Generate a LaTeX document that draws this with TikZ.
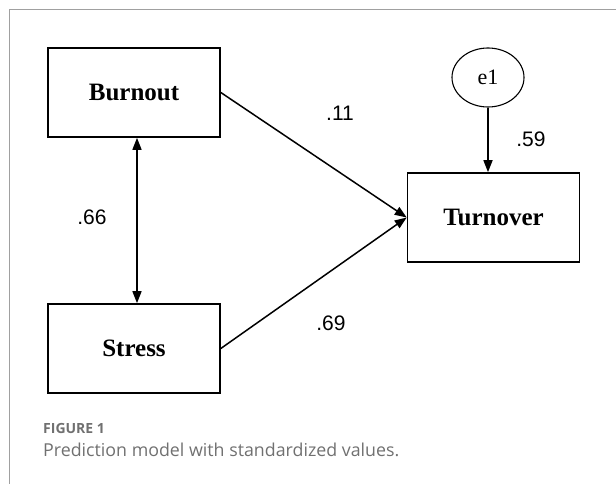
\documentclass[tikz,border=0pt]{standalone}
\usepackage{fontspec}
\setmainfont{Liberation Serif}
\newfontfamily\numfont{Liberation Sans}
\newfontfamily\capfont{Open Sans}
\usetikzlibrary{arrows.meta,shapes.geometric}
\definecolor{framegray}{HTML}{A0A0A0}
\definecolor{capgray}{HTML}{707070}

\begin{document}
\begin{tikzpicture}[x=1pt, y=-1pt, >={Triangle[length=12pt,width=9pt]}]
 \useasboundingbox (0,0) rectangle (616,484);
 \draw[framegray, line width=1pt] (9.5,484) -- (9.5,9.5) -- (616,9.5);
 \begin{scope}[every node/.style={draw, line width=1.6pt, inner sep=0pt,
     minimum width=172pt, minimum height=89pt,
     font=\fontsize{25}{29}\selectfont\bfseries}]
   \node (burnout) at (134,92.5) {Burnout};
   \node (stress) at (134,348.5) {Stress};
   \node (turnover) at (493.5,217.5) {Turnover};
 \end{scope}
 \node (e1) [draw, ellipse, line width=1.1pt, minimum width=72pt, minimum height=59pt,
   inner sep=0pt, font=\fontsize{22}{26}\selectfont] at (488,77.5) {e1};
 \begin{scope}[line width=1.5pt]
   \draw[<->] ([xshift=3pt]burnout.south) -- ([xshift=3pt]stress.north);
   \draw[->] (burnout.east) -- (turnover.west);
   \draw[->] (stress.east) -- (turnover.west);
   \draw[->] (e1.south) -- (e1.south |- turnover.north);
 \end{scope}
 \begin{scope}[every node/.style={font=\numfont\fontsize{21}{24}\selectfont}]
   \node (bt) at (340,113) {.11};
   \node (et) at (531,139) {.59};
   \node (bs) at (92,217) {.66};
   \node (st) at (331,323) {.69};
 \end{scope}
 \node (fig) [anchor=base west, inner sep=0pt, text=capgray,
   font=\capfont\fontsize{14}{16}\selectfont\bfseries] at (43,433) {FIGURE 1};
 \node (cap) [anchor=base west, inner sep=0pt, text=capgray,
   font=\capfont\fontsize{17.8}{20}\selectfont] at (43,456) {Prediction model with standardized values.};
\end{tikzpicture}
\end{document}
